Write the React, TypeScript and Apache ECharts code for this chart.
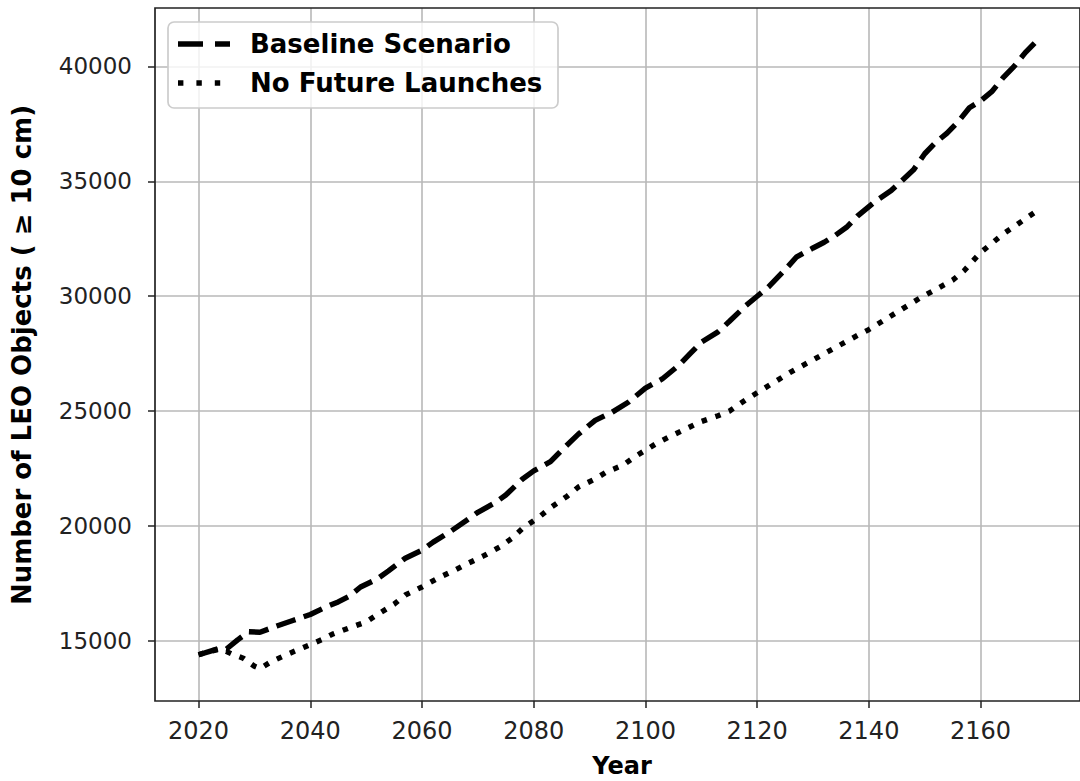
import React, { useEffect, useRef } from "react";
import * as echarts from "echarts";

const baselineYears = [2020, 2022, 2024, 2025, 2027, 2029, 2031, 2034, 2037, 2040, 2043, 2045, 2047, 2049, 2052, 2054, 2057, 2060, 2062, 2065, 2068, 2070, 2073, 2075, 2078, 2080, 2083, 2085, 2088, 2091, 2094, 2097, 2100, 2103, 2106, 2108, 2110, 2113, 2115, 2118, 2120, 2122, 2125, 2127, 2130, 2132, 2134, 2136, 2138, 2141, 2144, 2146, 2148, 2150, 2152, 2154, 2156, 2158, 2160, 2162, 2164, 2166, 2168, 2170];
const baselineValues = [14400, 14550, 14700, 14650, 15050, 15400, 15380, 15650, 15900, 16150, 16500, 16700, 16950, 17350, 17700, 18050, 18600, 18950, 19300, 19750, 20250, 20600, 21000, 21350, 22050, 22400, 22800, 23300, 24000, 24600, 24950, 25400, 26000, 26400, 27000, 27500, 28000, 28450, 28900, 29600, 30000, 30400, 31150, 31700, 32100, 32350, 32650, 33000, 33500, 34100, 34600, 35050, 35500, 36200, 36700, 37100, 37600, 38200, 38500, 38900, 39500, 40000, 40600, 41100];

const noLaunchYears = [2020, 2022, 2024, 2026, 2028, 2030, 2031, 2033, 2036, 2039, 2042, 2044, 2047, 2050, 2052, 2055, 2057, 2060, 2063, 2066, 2068, 2071, 2074, 2076, 2078, 2081, 2083, 2086, 2088, 2091, 2093, 2096, 2098, 2100, 2102, 2104, 2107, 2110, 2113, 2115, 2118, 2120, 2123, 2126, 2129, 2132, 2135, 2138, 2140, 2143, 2146, 2149, 2152, 2155, 2157, 2160, 2162, 2164, 2167, 2170];
const noLaunchValues = [14400, 14550, 14650, 14430, 14250, 13900, 13800, 14100, 14430, 14740, 15050, 15300, 15570, 15830, 16150, 16600, 17000, 17350, 17750, 18100, 18350, 18700, 19100, 19450, 19900, 20400, 20800, 21300, 21700, 22050, 22350, 22650, 23000, 23300, 23600, 23850, 24200, 24550, 24800, 25000, 25500, 25800, 26250, 26700, 27100, 27500, 27900, 28300, 28550, 29000, 29450, 29900, 30300, 30700, 31100, 31900, 32300, 32700, 33200, 33700];

const xTicks = [2020, 2040, 2060, 2080, 2100, 2120, 2140, 2160];
const yTicks = [15000, 20000, 25000, 30000, 35000, 40000];

const seriesNames = ["Baseline Scenario", "No Future Launches"];
const xTitle = "Year";
const yTitle = "Number of LEO Objects ( \u2265 10 cm)";

const FONT = "DejaVu Sans";

export default function App() {
  const ref = useRef<HTMLDivElement>(null);
  useEffect(() => {
    if (!ref.current) return;
    const chart = echarts.init(ref.current, null, { renderer: "svg" });
    const pair = (xs: number[], ys: number[]) => xs.map((x, i) => [x, ys[i]]);
    chart.setOption({
      animation: false,
      backgroundColor: "#ffffff",
      grid: {
        left: 155,
        top: 8,
        right: -10,
        bottom: 80,
        show: true,
        borderColor: "#222",
        borderWidth: 1.7,
        backgroundColor: "transparent",
        z: 10,
      },
      xAxis: {
        type: "value",
        min: 2012.2,
        max: 2177.8,
        axisLine: { show: false },
        axisTick: {
          show: true,
          customValues: xTicks,
          length: 7,
          lineStyle: { color: "#222", width: 1.5 },
        },
        axisLabel: {
          customValues: xTicks,
          margin: 18,
          fontFamily: FONT,
          fontSize: 24,
          color: "#222",
          formatter: (v: number) => String(v),
        },
        splitLine: { show: true, lineStyle: { color: "#b8b8b8", width: 1.6 } },
      },
      yAxis: {
        type: "value",
        min: 12388,
        max: 42542,
        axisLine: { show: false },
        axisTick: {
          show: true,
          customValues: yTicks,
          length: 7,
          lineStyle: { color: "#222", width: 1.5 },
        },
        axisLabel: {
          customValues: yTicks,
          margin: 23,
          fontFamily: FONT,
          fontSize: 23,
          color: "#222",
          formatter: (v: number) => String(v),
        },
        splitLine: { show: true, lineStyle: { color: "#b8b8b8", width: 1.6 } },
      },
      series: [
        {
          name: seriesNames[0],
          type: "line",
          data: pair(baselineYears, baselineValues),
          showSymbol: false,
          lineStyle: { color: "#000", width: 5.4, type: [20, 8.7], cap: "butt" },
          z: 5,
        },
        {
          name: seriesNames[1],
          type: "line",
          data: pair(noLaunchYears, noLaunchValues),
          showSymbol: false,
          lineStyle: { color: "#000", width: 5.4, type: [5.4, 9], cap: "butt" },
          z: 5,
        },
      ],
      graphic: [
        {
          type: "rect",
          shape: { x: 168, y: 22, width: 390, height: 86, r: 6 },
          style: { fill: "rgba(255,255,255,0.8)", stroke: "#cccccc", lineWidth: 1.7 },
          z: 20,
        },
        {
          type: "line",
          shape: { x1: 178, y1: 44, x2: 230, y2: 44 },
          style: { stroke: "#000", lineWidth: 5.4, lineDash: [25, 12] },
          z: 21,
        },
        {
          type: "line",
          shape: { x1: 178, y1: 83, x2: 230, y2: 83 },
          style: { stroke: "#000", lineWidth: 5.4, lineDash: [5.4, 13] },
          z: 21,
        },
        {
          type: "text",
          x: 250,
          y: 44,
          style: { text: seriesNames[0], font: `bold 26px '${FONT}'`, fill: "#000", verticalAlign: "middle" },
          z: 21,
        },
        {
          type: "text",
          x: 250,
          y: 83,
          style: { text: seriesNames[1], font: `bold 26px '${FONT}'`, fill: "#000", verticalAlign: "middle" },
          z: 21,
        },
        {
          type: "text",
          x: 622,
          y: 766,
          style: { text: xTitle, font: `bold 24px '${FONT}'`, fill: "#000", align: "center", verticalAlign: "middle" },
          z: 21,
        },
        {
          type: "text",
          x: 22,
          y: 355,
          rotation: Math.PI / 2,
          style: { text: yTitle, font: `bold 26px '${FONT}'`, fill: "#000", align: "center", verticalAlign: "middle" },
          z: 21,
        },
      ],
    });
    return () => chart.dispose();
  }, []);
  return (
    <div
      ref={ref}
      style={{ position: "fixed", left: 0, top: 0, width: 1080, height: 781, background: "#fff" }}
    />
  );
}
